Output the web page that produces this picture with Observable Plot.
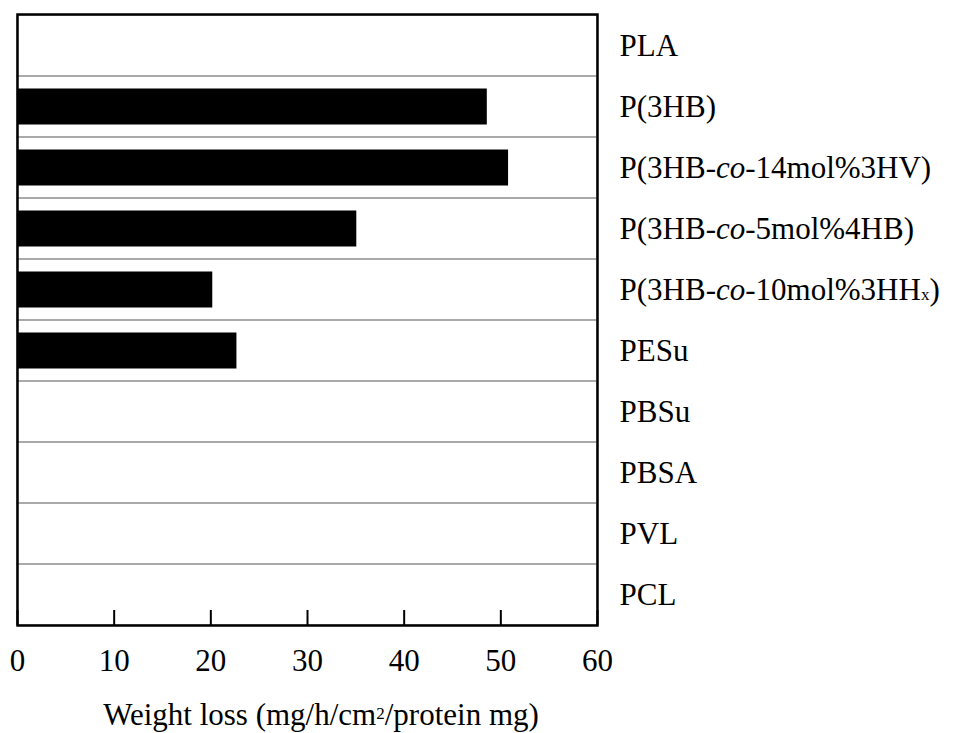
<!DOCTYPE html>
<html><head><meta charset="utf-8">
<script src="https://cdn.jsdelivr.net/npm/d3@7"></script>
<script src="https://cdn.jsdelivr.net/npm/@observablehq/plot@0.6"></script>
<style>
body{margin:0;background:#fff}
#chart svg text{font-family:"Liberation Serif",serif}
#xlabel{font-family:"Liberation Serif",serif;font-size:31px;line-height:31px;color:#000;width:955px;height:43px;position:relative}
#xlabel span.t{position:absolute;left:321px;top:9px;transform:translateX(-50%);white-space:nowrap}
#xlabel small{font-size:17px;position:relative;top:-6px}
</style>
</head><body><div id="chart"></div><div id="xlabel"></div>
<script>
const polymers = ["PLA","P(3HB)","P(3HB-co-14mol%3HV)","P(3HB-co-5mol%4HB)","P(3HB-co-10mol%3HHx)","PESu","PBSu","PBSA","PVL","PCL"];
const weightLoss = [0,48.6,50.8,35.1,20.2,22.7,0,0,0,0];
const xTicks = [0,10,20,30,40,50,60];
const xLabelParts = ["Weight loss (mg/h/cm", "2", "/protein mg)"];

const data = polymers.map((p,i)=>({polymer:p, loss:weightLoss[i]}));

const chart = Plot.plot({
  width:955, height:690,
  marginLeft:17, marginRight:358, marginTop:14, marginBottom:65,
  style:{fontFamily:"Liberation Serif", fontSize:"31px", color:"#000", background:"#fff", overflow:"visible"},
  x:{domain:[0,60], ticks:xTicks},
  y:{domain:polymers, padding:0},
  marks:[
    Plot.barX(polymers, {x1:0, x2:60, y:d=>d, fill:"none", stroke:"#999", strokeWidth:1.2}),
    Plot.barX(data.filter(d=>d.loss>0), {x:"loss", y:"polymer", fill:"#000", insetTop:12.5, insetBottom:12.5}),
    Plot.axisX({ticks:xTicks, tickSize:-15, tickPadding:38, strokeWidth:2, label:null, fontSize:31}),
    Plot.axisY({anchor:"right", tickSize:0, tickPadding:22, label:null, fontSize:31}),
    Plot.frame({stroke:"#000", strokeWidth:2.5})
  ]
});
document.getElementById("chart").append(chart);

// rich text for polymer names: italic "co", subscript "x"
d3.select(chart).selectAll('g[aria-label="y-axis tick label"] text').each(function(){
  const t = d3.select(this);
  const s = t.text();
  const m = s.match(/^(.*?-)(co)(-.*)$/);
  if (!m) return;
  t.text(null);
  t.append("tspan").text(m[1]);
  t.append("tspan").attr("font-style","italic").text(m[2]);
  const rest = m[3];
  const sub = rest.match(/^(.*HH)(x)(\))$/);
  if (sub) {
    t.append("tspan").text(sub[1]);
    t.append("tspan").attr("font-size","17px").text(sub[2]);
    t.append("tspan").text(sub[3]);
  } else {
    t.append("tspan").text(rest);
  }
});

const lab = document.createElement("span");
lab.className = "t";
lab.append(xLabelParts[0]);
const sm = document.createElement("small"); sm.textContent = xLabelParts[1];
lab.append(sm, xLabelParts[2]);
document.getElementById("xlabel").append(lab);
</script>
</body></html>
